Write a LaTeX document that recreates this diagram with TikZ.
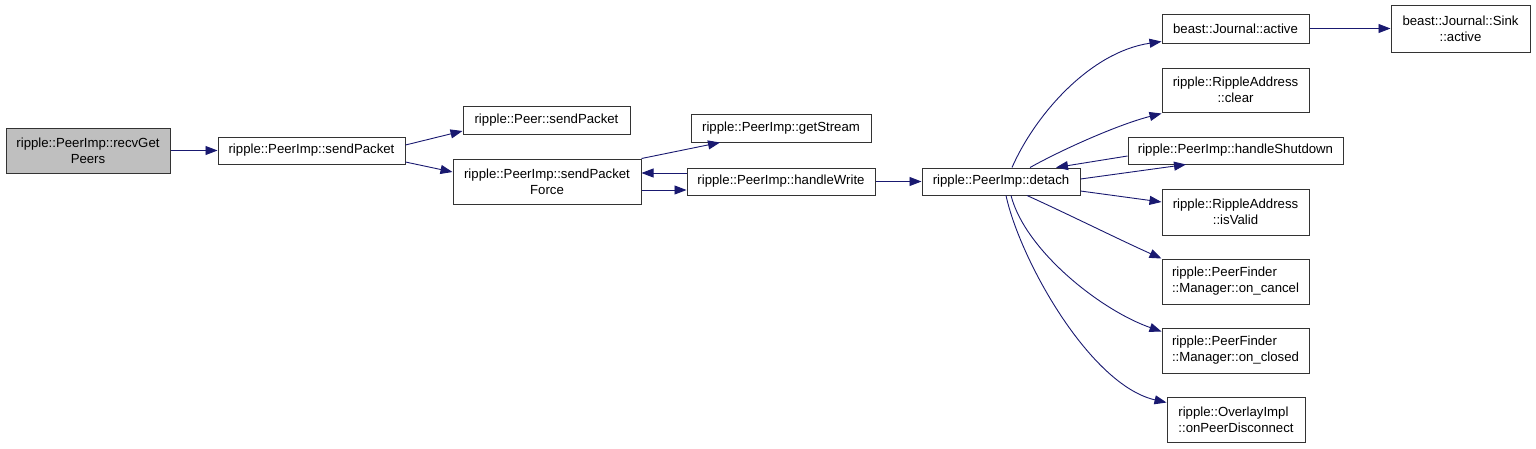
\documentclass[tikz,border=0pt]{standalone}
\usepackage{fontspec}
\setmainfont{Liberation Sans}
\usetikzlibrary{arrows.meta,calc}
\definecolor{edgeblue}{HTML}{191970}
\definecolor{boxline}{HTML}{333333}
\definecolor{curfill}{HTML}{BFBFBF}
\begin{document}
\begin{tikzpicture}[x=1pt,y=-1pt,
  fn/.style={draw=boxline,line width=1pt,rectangle,inner sep=0pt,align=center,
    font=\fontsize{13.2}{16}\selectfont,fill=white},
  fnl/.style={fn,align=left},
  cur/.style={fn,fill=curfill},
  call/.style={draw=edgeblue,line width=0.9pt,-{Triangle[length=12pt,width=9pt]}}]
\useasboundingbox (0,0) rectangle (1536,448);

\node[cur,minimum width=164pt,minimum height=45pt] (recv) at (88,150.5) {ripple::PeerImp::recvGet\\Peers};
\node[fn,minimum width=187pt,minimum height=27pt] (sendPacket) at (311.5,150.5) {ripple::PeerImp::sendPacket};
\node[fn,minimum width=167pt,minimum height=28pt] (peerSend) at (546.5,120) {ripple::Peer::sendPacket};
\node[fn,minimum width=188pt,minimum height=45pt] (force) at (547,181.5) {ripple::PeerImp::sendPacket\\Force};
\node[fn,minimum width=180pt,minimum height=28pt] (getStream) at (781,128) {ripple::PeerImp::getStream};
\node[fn,minimum width=188pt,minimum height=27pt] (handleWrite) at (781,181.5) {ripple::PeerImp::handleWrite};
\node[fn,minimum width=158pt,minimum height=27pt] (detach) at (1001,181.5) {ripple::PeerImp::detach};
\node[fn,minimum width=147pt,minimum height=29pt] (jactive) at (1235.5,28.5) {beast::Journal::active};
\node[fn,minimum width=139pt,minimum height=47pt] (sink) at (1460.5,28.5) {beast::Journal::Sink\\::active};
\node[fn,minimum width=147pt,minimum height=44pt] (clear) at (1235.5,90) {ripple::RippleAddress\\::clear};
\node[fn,minimum width=215pt,minimum height=27pt] (shutdown) at (1235.5,150.5) {ripple::PeerImp::handleShutdown};
\node[fn,minimum width=147pt,minimum height=46pt] (isValid) at (1235.5,212) {ripple::RippleAddress\\::isValid};
\node[fnl,minimum width=147pt,minimum height=45pt] (oncancel) at (1235.5,281.5) {ripple::PeerFinder\\::Manager::on\_cancel};
\node[fnl,minimum width=147pt,minimum height=45pt] (onclosed) at (1235.5,350.5) {ripple::PeerFinder\\::Manager::on\_closed};
\node[fnl,minimum width=138pt,minimum height=45pt] (onpeer) at (1236,419.5) {ripple::OverlayImpl\\::onPeerDisconnect};

\draw[call] (recv.east) -- (sendPacket.west);
\draw[call] ($(sendPacket.east)+(0,-5.5)$) -- ($(peerSend.west)+(0,11)$);
\draw[call] ($(sendPacket.east)+(0,11.5)$) -- ($(force.west)+(0,-9.5)$);
\draw[call] (force.north east) -- ($(getStream.south)+(-61,0)$);
\draw[call] ($(handleWrite.west)+(0,-8.5)$) -- ($(force.east)+(0,-8.5)$);
\draw[call] ($(force.east)+(0,8.5)$) -- ($(handleWrite.west)+(0,8.5)$);
\draw[call] (handleWrite.east) -- (detach.west);
\draw[call] ($(detach.north)+(11,0)$) .. controls (1035,115) and (1090,52) .. ($(jactive.south west)+(0,-2)$);
\draw[call] ($(detach.north)+(29,0)$) .. controls (1065,148) and (1120,124) .. ($(clear.south west)+(0,1)$);
\draw[call] ($(shutdown.west)+(0,5.5)$) -- ($(detach.north)+(55,0)$);
\draw[call] ($(detach.east)+(0,-2.5)$) -- ($(shutdown.south)+(-49.5,0)$);
\draw[call] ($(detach.east)+(0,9.5)$) -- ($(isValid.west)+(0,-10)$);
\draw[call] ($(detach.south)+(26,0)$) .. controls (1070,215) and (1120,240) .. (oncancel.north west);
\draw[call] ($(detach.south)+(10,0)$) .. controls (1025,250) and (1100,310) .. ($(onclosed.north west)+(0,4)$);
\draw[call] ($(detach.south)+(5,0)$) .. controls (1020,260) and (1090,385) .. ($(onpeer.north west)+(0,6)$);
\draw[call] (jactive.east) -- (sink.west);
\end{tikzpicture}
\end{document}
